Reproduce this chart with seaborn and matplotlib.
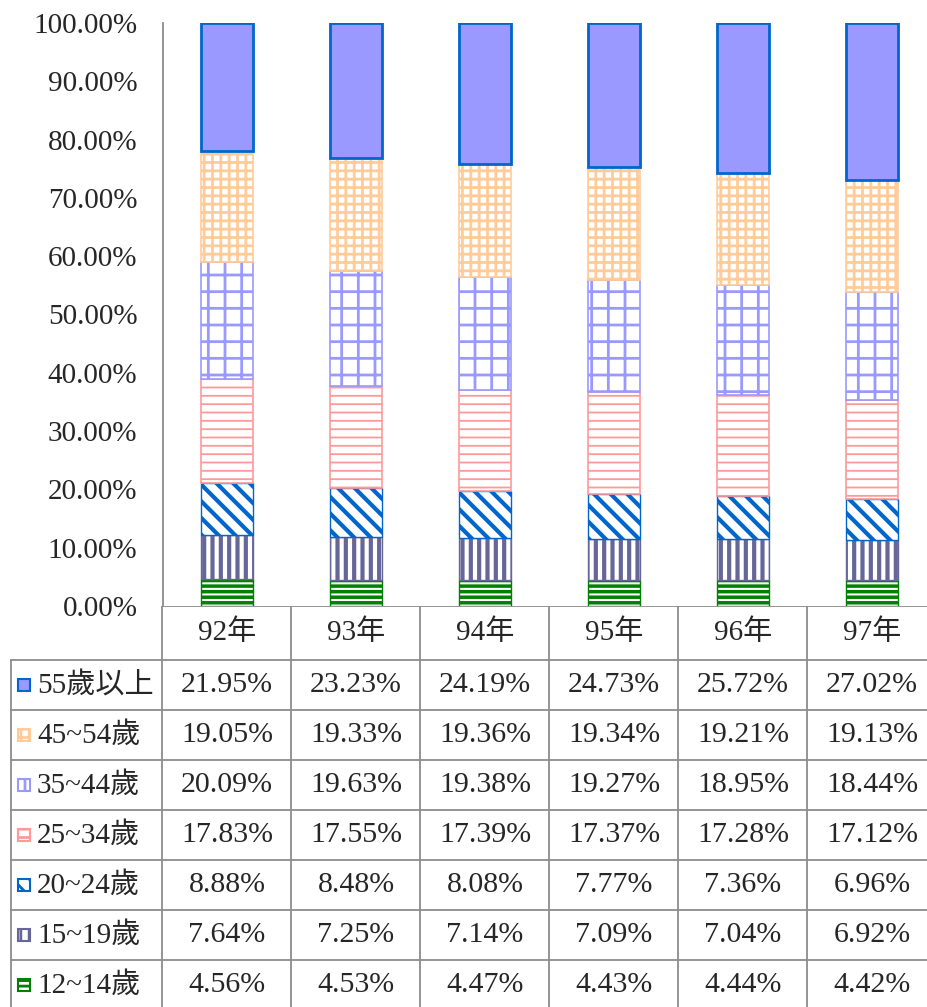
import numpy as np
import pandas as pd
import matplotlib
matplotlib.use('Agg')
import matplotlib.pyplot as plt
from matplotlib.patches import Rectangle
import seaborn as sns

# Data (percent of each year's total)
years = ['92年', '93年', '94年', '95年', '96年', '97年']
groups = ['55歲以上', '45~54歲', '35~44歲', '25~34歲', '20~24歲', '15~19歲', '12~14歲']
age_55_up = [21.95, 23.23, 24.19, 24.73, 25.72, 27.02]
age_45_54 = [19.05, 19.33, 19.36, 19.34, 19.21, 19.13]
age_35_44 = [20.09, 19.63, 19.38, 19.27, 18.95, 18.44]
age_25_34 = [17.83, 17.55, 17.39, 17.37, 17.28, 17.12]
age_20_24 = [8.88, 8.48, 8.08, 7.77, 7.36, 6.96]
age_15_19 = [7.64, 7.25, 7.14, 7.09, 7.04, 6.92]
age_12_14 = [4.56, 4.53, 4.47, 4.43, 4.44, 4.42]
yticks = list(range(0, 101, 10))

df = pd.DataFrame({
    '55歲以上': age_55_up, '45~54歲': age_45_54, '35~44歲': age_35_44,
    '25~34歲': age_25_34, '20~24歲': age_20_24, '15~19歲': age_15_19,
    '12~14歲': age_12_14,
}, index=years)

# fill, edge/hatch colour, hatch, edge width, hatch width
styles = {
    '55歲以上': ('#9999FF', '#0066CC', None, 2.0, 1.0),
    '45~54歲': ('white', '#FFCC99', '++', 1.2, 2.0),
    '35~44歲': ('white', '#9999FF', '+', 1.2, 2.0),
    '25~34歲': ('white', '#FF9999', '--', 1.2, 1.3),
    '20~24歲': ('white', '#0066CC', '\\\\', 1.0, 3.0),
    '15~19歲': ('white', '#666699', '||', 1.0, 3.0),
    '12~14歲': ('white', '#008000', '---', 1.0, 2.5),
}

sns.set_style('white')
plt.rcParams['font.family'] = ['Liberation Serif', 'Noto Sans CJK TC']

W, H = 927, 1007
unit = 129  # pixels per category column
fig = plt.figure(figsize=(W / 100, H / 100), dpi=100)
ax = fig.add_axes([162.5 / W, (H - 606) / H, unit * len(years) / W, 583 / H])

# stacked bars, bottom group first
bottom = np.zeros(len(years))
for g in reversed(groups):
    fc, ec, hatch, lw, hlw = styles[g]
    plt.rcParams['hatch.linewidth'] = hlw
    with plt.rc_context({'hatch.linewidth': hlw}):
        sns.barplot(x=years, y=df[g].values, bottom=bottom, ax=ax, color=fc,
                    saturation=1, edgecolor=ec, hatch=hatch, linewidth=lw,
                    width=0.4, errorbar=None)
    bottom = bottom + df[g].values
plt.rcParams['hatch.linewidth'] = 2.0

ax.set_xlim(-0.5, len(years) - 0.5)
ax.set_ylim(0, 100)
ax.set_yticks(yticks)
ax.set_yticklabels([f'{v:.2f}%' for v in yticks], fontsize=21)
ax.tick_params(axis='y', length=0, pad=18)
ax.set_xticks([])
ax.set_xlabel('')
ax.set_ylabel('')
for s in ['top', 'right', 'bottom']:
    ax.spines[s].set_visible(False)
ax.spines['left'].set_color('#8c8c8c')
ax.spines['left'].set_linewidth(1.3)

# data table beneath the bars
lab_w = 152.5 / unit
h0 = 54 / 50
nrow = len(groups)
tax = fig.add_axes([10 / W, -3 / H, (152.5 + unit * len(years)) / W, 404 / H])
xmin = -0.5 - lab_w
xmax = len(years) - 0.5
tax.set_xlim(xmin, xmax)
tax.set_ylim(h0 + nrow, 0)
tax.axis('off')

grid = dict(color='#8c8c8c', lw=1.3, solid_capstyle='butt')
tax.plot([-0.5, xmax], [0, 0], **grid)
for k in range(len(years) + 1):
    tax.plot([-0.5 + k, -0.5 + k], [0, h0 + nrow], **grid)
for r in range(nrow + 1):
    tax.plot([xmin, xmax], [h0 + r, h0 + r], **grid)
tax.plot([xmin + 0.005, xmin + 0.005], [h0, h0 + nrow], **grid)

for i, yr in enumerate(years):
    tax.text(i, h0 / 2, yr, ha='center', va='center', fontsize=21)

for r, g in enumerate(groups):
    yc = h0 + r + 0.5
    fc, ec, hatch, lw, hlw = styles[g]
    icon = Rectangle((xmin + 8 / unit, yc - 0.12), 12 / unit, 0.24,
                     facecolor=fc, edgecolor=ec, hatch=hatch, lw=1.5)
    tax.add_patch(icon)
    tax.text(xmin + 27 / unit, yc, g, ha='left', va='center', fontsize=21)
    for i, v in enumerate(df[g].values):
        tax.text(i, yc, f'{v:.2f}%', ha='center', va='center', fontsize=21.5)

fig.savefig('out.png', dpi=100)
